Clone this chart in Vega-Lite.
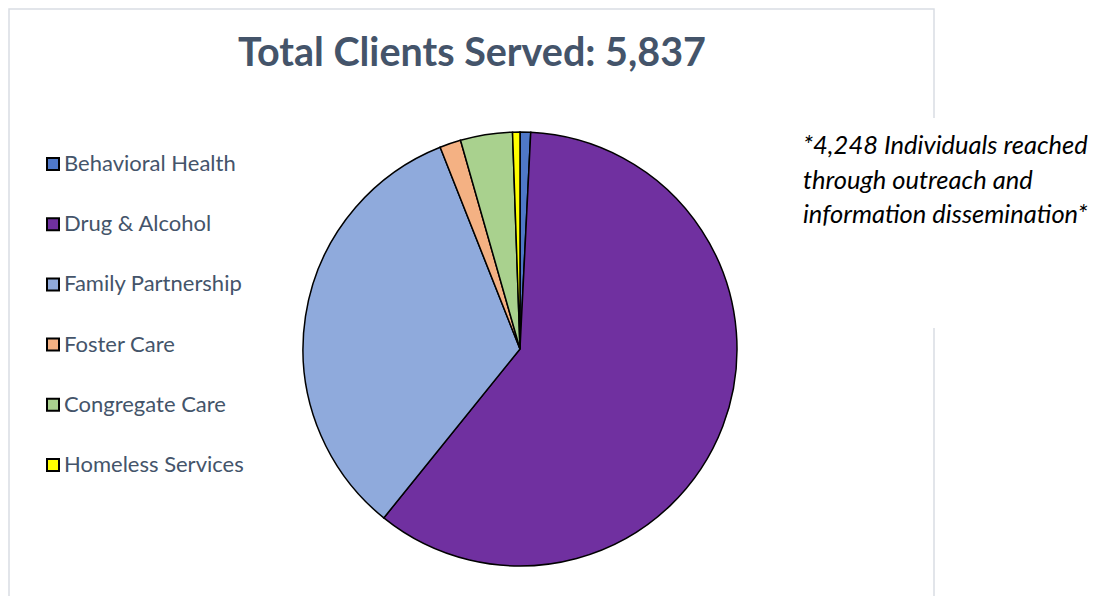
{
  "$schema": "https://vega.github.io/schema/vega-lite/v6.json",
  "autosize": "none",
  "width": 434,
  "height": 434,
  "padding": {"left": 303, "top": 132, "right": 371, "bottom": 30},
  "background": "white",
  "config": {"view": {"stroke": null}, "font": "Lato"},
  "title": {
    "text": "Total Clients Served: 5,837",
    "fontSize": 39.5,
    "font": "Lato",
    "fontWeight": "bold",
    "color": "#44546A",
    "anchor": "middle",
    "frame": "group",
    "dx": -48,
    "baseline": "alphabetic",
    "offset": -97
  },
  "layer": [
    {
      "data": {"values": [{}]},
      "mark": {"type": "rect", "fill": null, "stroke": "#D9DDE3", "strokeWidth": 1.5,
        "x": -294, "x2": 631, "y": -123, "y2": 520},
      "encoding": {}
    },
    {
      "data": {"values": [{}]},
      "mark": {"type": "rect", "fill": "white", "stroke": null,
        "x": 490, "x2": 805, "y": -14, "y2": 196},
      "encoding": {}
    },
    {
      "data": {"values": [
        {"program": "Behavioral Health", "clients": 46},
        {"program": "Drug & Alcohol", "clients": 3503},
        {"program": "Family Partnership", "clients": 1938},
        {"program": "Foster Care", "clients": 92},
        {"program": "Congregate Care", "clients": 226},
        {"program": "Homeless Services", "clients": 32}
      ]},
      "transform": [{"window": [{"op": "row_number", "as": "rank"}]}],
      "mark": {"type": "arc", "stroke": "black", "strokeWidth": 1.5},
      "encoding": {
        "theta": {"field": "clients", "type": "quantitative", "stack": true},
        "order": {"field": "rank", "type": "quantitative", "sort": "ascending"},
        "color": {
          "field": "program",
          "type": "nominal",
          "sort": null,
          "scale": {
            "domain": ["Behavioral Health", "Drug & Alcohol", "Family Partnership", "Foster Care", "Congregate Care", "Homeless Services"],
            "range": ["#4F78C8", "#7030A0", "#8FAADC", "#F4B183", "#A9D18E", "#FFFF00"]
          },
          "legend": {
            "title": null,
            "orient": "none",
            "legendX": -261,
            "legendY": 21,
            "padding": 0,
            "symbolType": "square",
            "symbolSize": 144,
            "symbolStrokeColor": "black",
            "symbolStrokeWidth": 2,
            "symbolOpacity": 1,
            "labelFont": "Lato",
            "labelFontSize": 22,
            "labelColor": "#44546A",
            "labelOffset": 0,
            "labelLimit": 300,
            "rowPadding": 38.2
          }
        }
      }
    },
    {
      "data": {"values": [{}]},
      "mark": {
        "type": "text",
        "text": ["*4,248 Individuals reached", "through outreach and", "information dissemination*"],
        "x": 500,
        "y": 22,
        "align": "left",
        "baseline": "alphabetic",
        "font": "Lato",
        "fontStyle": "italic",
        "fontSize": 25.5,
        "lineHeight": 34.5,
        "color": "black"
      },
      "encoding": {}
    }
  ]
}
